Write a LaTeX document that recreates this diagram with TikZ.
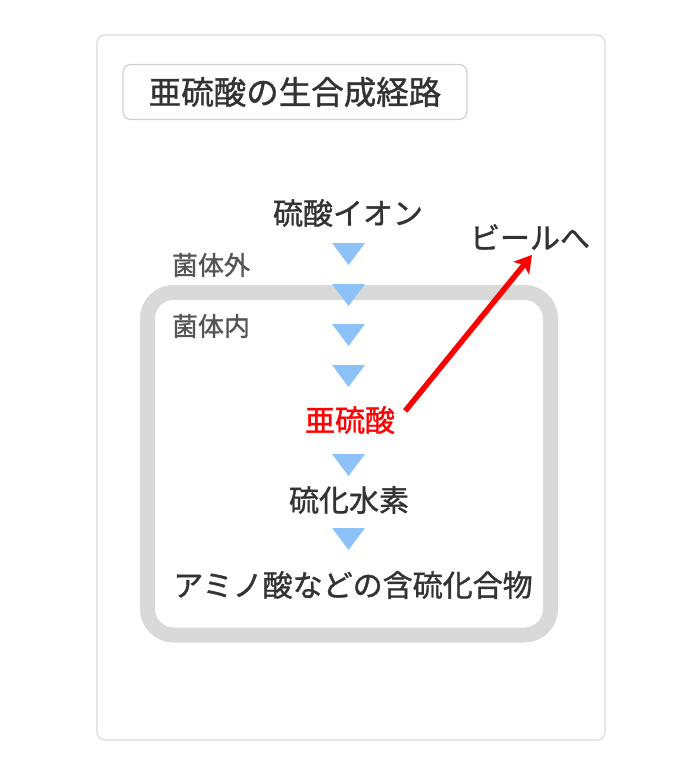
\documentclass[tikz,border=0pt]{standalone}
\usepackage{fontspec}
\setmainfont{Noto Sans CJK JP}
\newfontfamily\medfont[FakeBold=1.2]{Noto Sans CJK JP}
\usetikzlibrary{arrows.meta}

\definecolor{framegray}{HTML}{DCDCDC}
\definecolor{boxgray}{HTML}{CFCFCF}
\definecolor{cellgray}{HTML}{D9D9D9}
\definecolor{textgray}{HTML}{333333}
\definecolor{sidegray}{HTML}{555555}
\definecolor{triblue}{HTML}{8CC2F7}
\definecolor{sulred}{HTML}{FF0000}

\begin{document}
\begin{tikzpicture}[x=1pt,y=-1pt,
    main/.style={inner sep=0pt, text=textgray, font=\medfont\fontsize{30}{34}\selectfont},
    side/.style={inner sep=0pt, text=sidegray, font=\medfont\fontsize{26}{30}\selectfont},
    titlebox/.style={draw=boxgray, line width=1.2pt, rounded corners=8pt,
        minimum width=344pt, minimum height=55pt, text=textgray,
        font=\medfont\fontsize{32.5}{36}\selectfont},
    redarrow/.style={draw=sulred, line width=5.5pt,
        -{Stealth[length=17pt, width=20pt, inset=4pt]}}]
    \useasboundingbox (0,0) rectangle (700,767);

    % Draw the outer frame
    \draw[framegray, line width=1.2pt, rounded corners=8pt] (97,35) rectangle (605,740);

    % Title
    \node[titlebox] (title) at (295,92) {亜硫酸の生合成経路};

    % Draw the cell wall
    \draw[cellgray, line width=15pt, rounded corners=26pt] (147.5,292.5) rectangle (550.5,635);

    % Compounds along the pathway
    \node[main] (sulfate) at (348,213) {硫酸イオン};
    \node[main] (beer) at (530,237) {ビールへ};
    \node[side] (outside) at (211,265) {菌体外};
    \node[side] (inside) at (211,326) {菌体内};
    \node[main, text=sulred] (sulfite) at (350,420) {亜硫酸};
    \node[main] (sulfide) at (349,500) {硫化水素};
    \node[main] (amino) at (353,585) {アミノ酸などの含硫化合物};

    % Draw the step triangles
    \foreach \y [count=\i from 1] in {254,295,335,376,465,539} {
        \fill[triblue] (332,\y-11) -- (365,\y-11) -- (348.5,\y+11) -- cycle;
    }

    % Sulfite goes to the beer
    \draw[redarrow] ([xshift=10pt,yshift=-5pt]sulfite.north east) -- ([xshift=2pt,yshift=-5pt]beer.south);
\end{tikzpicture}
\end{document}
